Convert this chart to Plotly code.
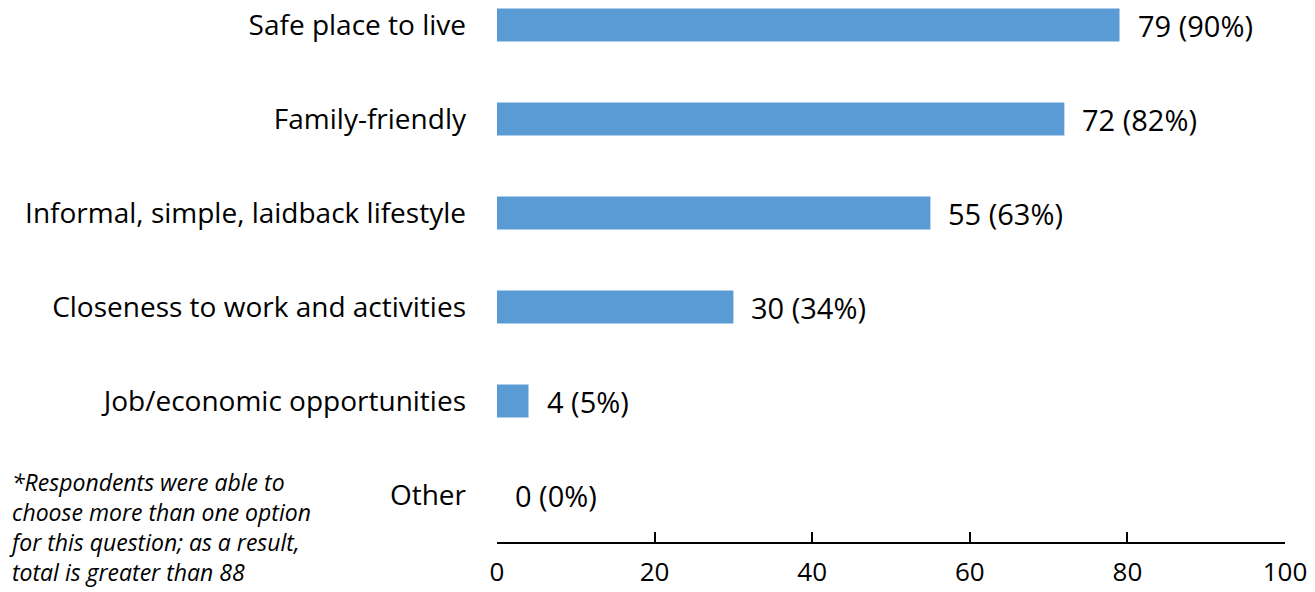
import plotly.graph_objects as go

categories = ["Other", "Job/economic opportunities", "Closeness to work and activities",
              "Informal, simple, laidback lifestyle", "Family-friendly", "Safe place to live"]
counts = [0, 4, 30, 55, 72, 79]
percents = [0, 5, 34, 63, 82, 90]
x_ticks = [0, 20, 40, 60, 80, 100]
footnote = ("*Respondents were able to<br>choose more than one option<br>"
            "for this question; as a result,<br>total is greater than 88")

FONT = "Open Sans"

fig = go.Figure()
fig.add_trace(go.Bar(
    y=list(range(len(categories))), x=counts, orientation="h",
    marker=dict(color="#5B9BD5", line=dict(width=0)), width=0.35,
))

for i, (c, p) in enumerate(zip(counts, percents)):
    fig.add_annotation(x=c, y=i, xref="x", yref="y", text=f"{c} ({p}%)",
                       showarrow=False, xanchor="left", yanchor="middle",
                       xshift=16, font=dict(family=FONT, size=29, color="#000"))

fig.add_annotation(xref="paper", yref="paper", x=-0.6216, y=0.028,
                   xanchor="left", yanchor="middle", align="left",
                   text=f"<i>{footnote}</i>", showarrow=False,
                   font=dict(family=FONT, size=23, color="#000"))

fig.update_layout(
    width=1315, height=592,
    margin=dict(l=497, r=30, t=0, b=50, autoexpand=False),
    paper_bgcolor="white", plot_bgcolor="white",
    showlegend=False,
    font=dict(family=FONT, size=28, color="#000"),
    xaxis=dict(range=[0, 100], tickvals=x_ticks, showgrid=False, zeroline=False,
               showline=True, linecolor="#000", linewidth=2, automargin=False,
               ticks="inside", ticklen=10, tickwidth=2, tickcolor="#000",
               ticklabelstandoff=6, tickfont=dict(size=26)),
    yaxis=dict(range=[-0.5, 5.266], tickvals=list(range(len(categories))),
               ticktext=categories, showgrid=False, zeroline=False, showline=False,
               automargin=False,
               ticks="", ticklabelstandoff=30, tickfont=dict(size=28)),
)

fig.write_html("out.html", config={"displayModeBar": False},
               post_script="document.body.style.margin='0';document.body.style.overflow='hidden';")
